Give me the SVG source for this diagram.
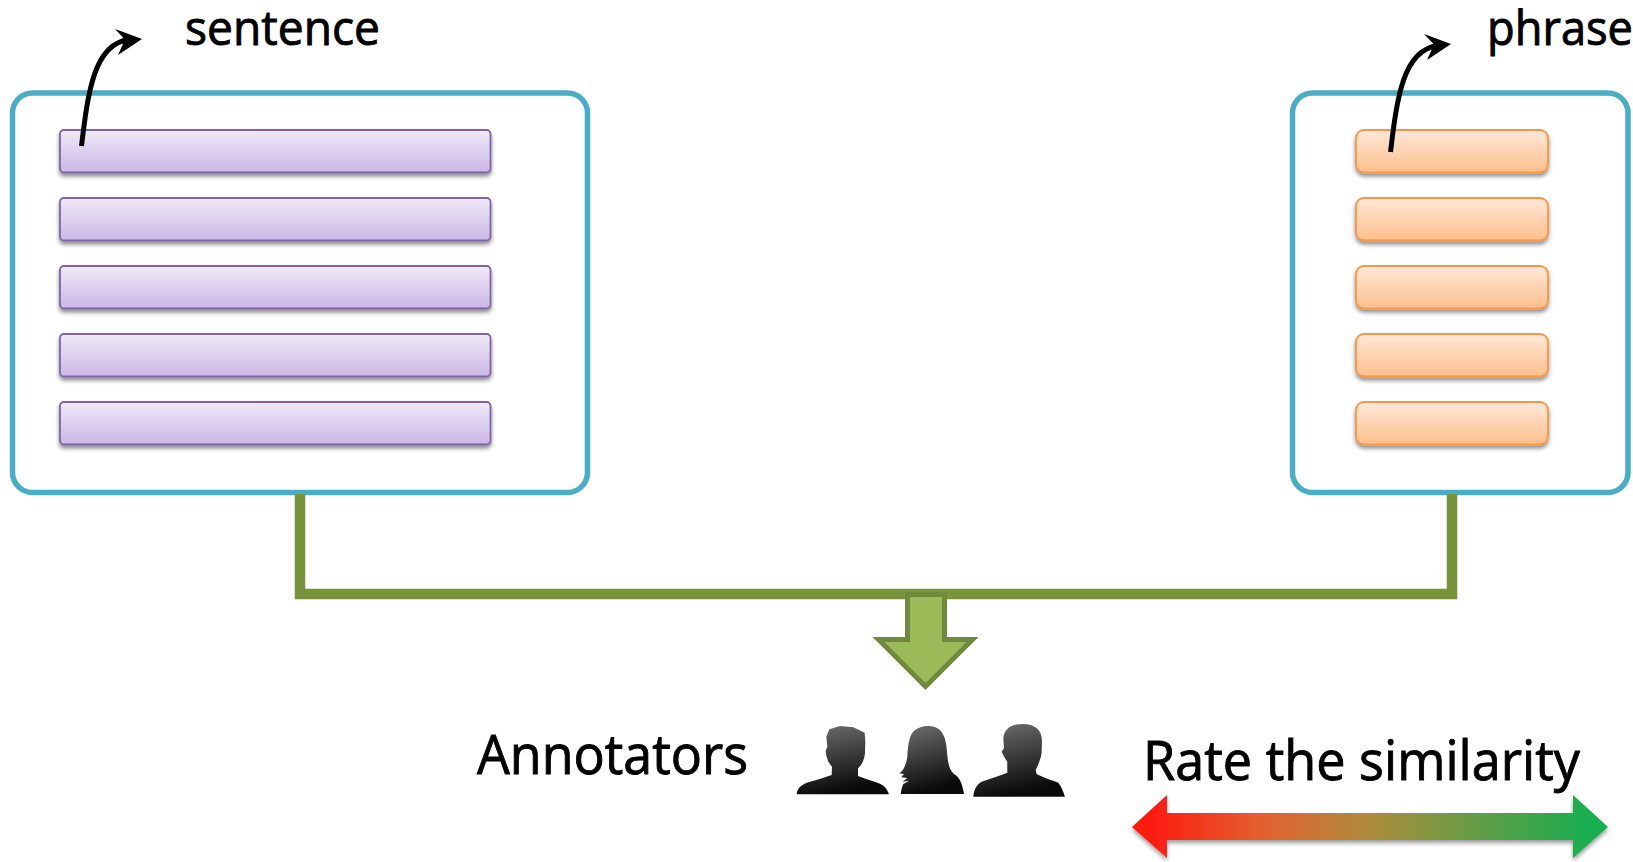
<svg xmlns="http://www.w3.org/2000/svg" width="1633" height="862" viewBox="0 0 1633 862">
<style>
.box{fill:#fff;stroke:#4bacc6;stroke-width:5.5}
.pb{fill:url(#pg);stroke:#8064a2;stroke-width:1.8;filter:url(#sh)}
.ob{fill:url(#og);stroke:#f79646;stroke-width:1.8;filter:url(#sh)}
.t{font-family:"Open Sans","Noto Sans",sans-serif;fill:#000;stroke:#000;stroke-width:.9px;font-size:47px}
.cur{fill:none;stroke:#000;stroke-width:5}
.conn{fill:none;stroke:#77933c;stroke-width:10.500}
.p{fill:url(#hg)}
</style>
<defs>
<linearGradient id="pg" x1="0" y1="0" x2="0" y2="1"><stop offset="0" stop-color="#f0eaf8"/><stop offset="1" stop-color="#cab7e4"/></linearGradient>
<linearGradient id="og" x1="0" y1="0" x2="0" y2="1"><stop offset="0" stop-color="#ffe8d8"/><stop offset="1" stop-color="#fdbf8c"/></linearGradient>
<linearGradient id="hg" x1="0" y1="0" x2="0.25" y2="1"><stop offset="0" stop-color="#707070"/><stop offset="1" stop-color="#0a0a0a"/></linearGradient>
<linearGradient id="rg" gradientUnits="userSpaceOnUse" x1="1150" y1="0" x2="1590" y2="0"><stop offset="0" stop-color="#fe1a10"/><stop offset=".25" stop-color="#e4602f"/><stop offset=".5" stop-color="#ad8c3c"/><stop offset="1" stop-color="#17ae50"/></linearGradient>
<filter id="sh" x="-5%" y="-30%" width="110%" height="170%"><feDropShadow dx="0" dy="3" stdDeviation="2" flood-color="#000" flood-opacity=".45"/></filter>
<filter id="sh2" x="-5%" y="-20%" width="110%" height="150%"><feDropShadow dx="0" dy="3" stdDeviation="2" flood-color="#000" flood-opacity=".4"/></filter>
<path id="cv" d="M81.500 146C88 92 94 44 129 39.500" class="cur"/>
<path id="chead" d="M142 39L115 29L125 39.500L118 55Z"/>
</defs>
<rect width="1633" height="862" fill="#fff"/>
<g id="sentence-box">
<rect class="box" x="12.500" y="93" width="575" height="399.500" rx="20"/>
<rect class="pb" x="60" y="130" width="430.500" height="42.500" rx="4"/>
<rect class="pb" x="60" y="198" width="430.500" height="42.500" rx="4"/>
<rect class="pb" x="60" y="266" width="430.500" height="42.500" rx="4"/>
<rect class="pb" x="60" y="334" width="430.500" height="42.500" rx="4"/>
<rect class="pb" x="60" y="402" width="430.500" height="42.500" rx="4"/>
</g>
<g id="phrase-box">
<rect class="box" x="1292.500" y="93" width="335.500" height="399.500" rx="20"/>
<rect class="ob" x="1356" y="130" width="192" height="42.500" rx="8"/>
<rect class="ob" x="1356" y="198" width="192" height="42.500" rx="8"/>
<rect class="ob" x="1356" y="266" width="192" height="42.500" rx="8"/>
<rect class="ob" x="1356" y="334" width="192" height="42.500" rx="8"/>
<rect class="ob" x="1356" y="402" width="192" height="42.500" rx="8"/>
</g>
<g id="connectors">
<path class="conn" d="M300 494V594H1452V494"/>
<use href="#cv"/><use href="#chead"/>
<use href="#cv" transform="translate(1309 6)"/><use href="#chead" transform="translate(1309 5)"/>
</g>
<g id="merge-arrow">
<path d="M907.500 594.500H944.500V639.500H972.500L925.500 686.500L878.500 639.500H907.500Z" fill="#9bbb59" stroke="#71893f" stroke-width="5"/>
</g>
<g id="sentence-label"><text class="t" x="185" y="45" textLength="195" lengthAdjust="spacingAndGlyphs">sentence</text></g>
<g id="phrase-label"><text class="t" x="1487" y="45" textLength="146" lengthAdjust="spacingAndGlyphs">phrase</text></g>
<g id="annotators-label"><text class="t" style="font-size:54px" x="477" y="774" textLength="271" lengthAdjust="spacingAndGlyphs">Annotators</text></g>
<g id="rate-label"><text class="t" style="font-size:54px" x="1143" y="780" textLength="437" lengthAdjust="spacingAndGlyphs">Rate the similarity</text></g>
<g id="annotators" transform="translate(770 580) scale(.3333)">
<path class="p" d="M80 643C82 625 92 615 115 607C140 600 165 592 185 585L186 560C175 550 168 530 167 512L172 500L169 470L178 448L210 438L250 442L284 458L286 485L285 520C283 540 275 555 264 565L264 588C285 597 310 603 330 611C345 618 353 630 357 643Z"/>
<path class="p" d="M392 642C394 630 396 620 400 612L418 602L398 605L412 594L394 592L402 582L388 580C402 570 408 555 412 530C414 500 416 470 430 455C450 435 490 432 510 450C528 468 530 500 532 525C534 550 538 570 552 582C568 590 577 610 582 642Z"/>
<path class="p" d="M610 650C612 630 618 615 635 605C660 595 690 588 712 578L712 545L705 535L695 515L702 505L700 475C702 450 720 432 758 432C795 432 815 450 816 480L815 520C810 545 802 560 797 570L800 582C825 595 845 600 865 608C875 620 880 635 885 650Z"/>
</g>
<g id="rate-arrow">
<path d="M1132 827L1167 795V813H1573V795L1608 827L1573 858V840H1167V858Z" fill="url(#rg)" filter="url(#sh2)"/>
</g>
</svg>
